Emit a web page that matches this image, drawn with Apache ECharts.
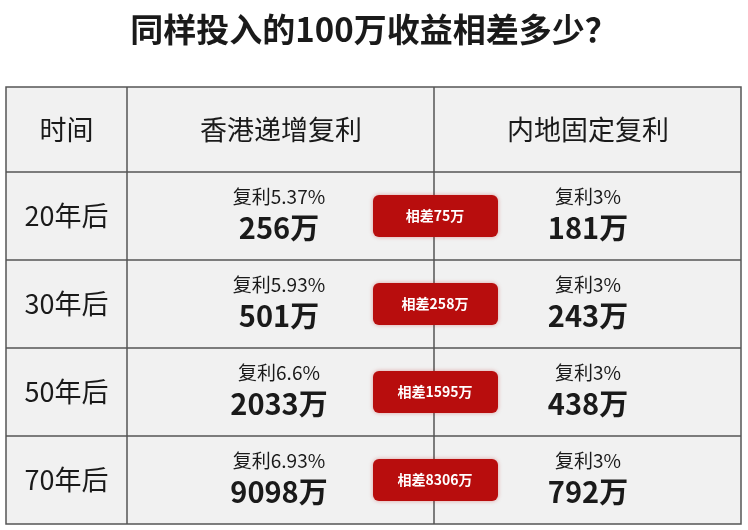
<!DOCTYPE html>
<html><head><meta charset="utf-8">
<script src="https://cdn.jsdelivr.net/npm/echarts@6/dist/echarts.min.js"></script>
<style>html,body{margin:0;background:#fff}#c{width:748px;height:530px}</style>
</head><body><div id="c"></div>
<script>
var title = '同样投入的100万收益相差多少？';
var headers = ['时间', '香港递增复利', '内地固定复利'];
var periods = ['20年后', '30年后', '50年后', '70年后'];
var hkRates = ['5.37%', '5.93%', '6.6%', '6.93%'];
var hkValues = [256, 501, 2033, 9098];
var cnRates = ['3%', '3%', '3%', '3%'];
var cnValues = [181, 243, 438, 792];
var diffs = [75, 258, 1595, 8306];

(function () {
  var FONT = '"Noto Sans CJK SC", "Noto Sans", sans-serif';
  var chart = echarts.init(document.getElementById('c'));

  var tLeft = 6, tRight = 741, tTop = 87, headH = 85, rowH = 88;
  var colX = [tLeft, 127, 434, tRight];
  var tBottom = tTop + headH + rowH * periods.length;
  var els = [];

  els.push({type: 'rect', shape: {x: tLeft, y: tTop, width: tRight - tLeft, height: tBottom - tTop},
    style: {fill: '#f1f1f1', stroke: '#555', lineWidth: 1.5}});
  for (var i = 0; i < periods.length; i++) {
    var y = tTop + headH + rowH * i;
    els.push({type: 'line', shape: {x1: tLeft, y1: y, x2: tRight, y2: y}, style: {stroke: '#555', lineWidth: 1.5}});
  }
  [colX[1], colX[2]].forEach(function (x) {
    els.push({type: 'line', shape: {x1: x, y1: tTop, x2: x, y2: tBottom}, style: {stroke: '#555', lineWidth: 1.5}});
  });
  function txt(x, y, t, size, weight) {
    els.push({type: 'text', x: x, y: y, z: 5, style: {text: t, fill: '#1a1a1a', font: (weight || 'normal') + ' ' + size + 'px ' + FONT, align: 'center', verticalAlign: 'middle'}});
  }
  var centers = [(colX[0] + colX[1]) / 2, 281, 588];
  headers.forEach(function (h, j) { txt(centers[j], tTop + headH / 2, h, 27); });
  periods.forEach(function (p, i) {
    var cy = tTop + headH + rowH * i + rowH / 2;
    txt(centers[0], cy, p, 27);
    txt(centers[1] - 2, cy - 19, '复利' + hkRates[i], 19);
    txt(centers[1] - 2, cy + 12, hkValues[i] + '万', 29, 'bold');
    txt(centers[2], cy - 19, '复利' + cnRates[i], 19);
    txt(centers[2], cy + 12, cnValues[i] + '万', 29, 'bold');
    els.push({type: 'rect', z: 6, shape: {x: 373, y: cy - 21, width: 125, height: 42, r: 6},
      style: {fill: '#b80d0d', shadowBlur: 4, shadowColor: 'rgba(180,0,0,0.35)'}});
    els.push({type: 'text', z: 7, x: 435, y: cy, style: {text: '相差' + diffs[i] + '万', fill: '#fff',
      font: 'bold 14px ' + FONT, align: 'center', verticalAlign: 'middle'}});
  });

  chart.setOption({
    title: {text: title, left: 'center', top: 8, textStyle: {fontFamily: FONT, fontSize: 33, fontWeight: 'bold', color: '#1a1a1a'}},
    graphic: els
  });
})();
</script></body></html>
